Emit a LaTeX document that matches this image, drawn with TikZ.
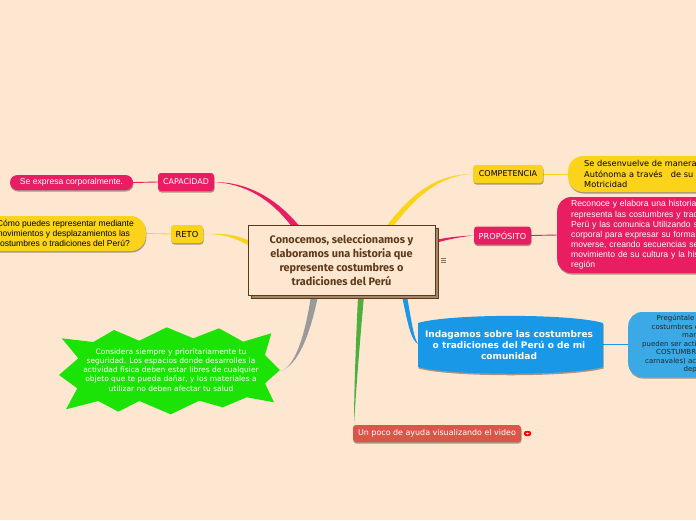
\documentclass[tikz,border=0pt]{standalone}
\usepackage{fontspec}
\setmainfont{Liberation Sans}
\newfontfamily\fira{Fira Sans}
\newfontfamily\dejavu{DejaVu Sans}
\usetikzlibrary{shadows,calc}
\pgfdeclarelayer{back}\pgfsetlayers{back,main}
\definecolor{bgc}{HTML}{FEE7D1}
\definecolor{pinkc}{HTML}{E81D62}
\definecolor{yelc}{HTML}{FBD31B}
\definecolor{bluec}{HTML}{1A98E8}
\definecolor{lblue}{HTML}{3BA9E6}
\definecolor{greenc}{HTML}{1BE305}
\definecolor{lineg}{HTML}{4CAF3E}
\definecolor{grayc}{HTML}{9A9A9A}
\definecolor{brownc}{HTML}{5D3A1A}
\definecolor{redc}{HTML}{D9574A}
\tikzset{
  sh/.style={drop shadow={shadow xshift=0.5pt,shadow yshift=-1.5pt,fill=black,opacity=.35}},
  box/.style={rounded corners=3pt,inner sep=0pt,sh,align=center},
  pinkbox/.style={box,fill=pinkc,text=white},
  yelbox/.style={box,fill=yelc,text=black},
  pline/.style={anchor=base west,inner sep=0pt,text=black!85,font=\dejavu\fontsize{7}{8}\selectfont},
}
\begin{document}
\begin{tikzpicture}[x=1pt,y=-1pt]
\useasboundingbox (0,0) rectangle (696,520);
\clip (0,0) rectangle (696,520);
\begin{pgfonlayer}{back}
\fill[bgc] (0,0) rectangle (696,520);
\end{pgfonlayer}

% title
\fill[fill=brownc!55!bgc] (251,228) rectangle (438,298);
\draw[brownc,line width=.8pt] (251,228) rectangle (438,298);
\node[draw=brownc,line width=.9pt,fill=bgc,minimum width=187pt,minimum height=70pt,inner sep=0pt,align=center,text=brownc,font=\fira\bfseries\fontsize{10.9}{13.8}\selectfont] (title) at (341.5,260)
  {Conocemos, seleccionamos y\\elaboramos una historia que\\represente costumbres o\\tradiciones del Perú};
\foreach \yy in {258,260,262} \draw[brownc!70!bgc,line width=.7pt] (441,\yy) -- (446,\yy);

% left side
\node[pinkbox,minimum width=56pt,minimum height=18pt,font=\dejavu\fontsize{7.9}{9}\selectfont] (capacidad) at (186,182) {CAPACIDAD};
\node[pinkbox,rounded corners=7.5pt,minimum width=123pt,minimum height=15pt,font=\fontsize{8.6}{10}\selectfont] (expresa) at (71.5,182.5) {Se expresa corporalmente.};
\node[yelbox,minimum width=32pt,minimum height=18pt,font=\dejavu\fontsize{8.3}{9}\selectfont] (reto) at (187,234) {RETO};
\node[yelbox,rounded corners=15pt,minimum width=166pt,minimum height=35pt,anchor=east,align=center,font=\fontsize{8.55}{10.1}\selectfont] (como) at (146,233.5)
  {¿Cómo puedes representar mediante\\movimientos y desplazamientos las\\costumbres o tradiciones del Perú?};

% star
\fill[greenc] (61.7,338.3) -- (93.3,342) -- (114,330) -- (139.3,340.7) -- (166.7,327.3) -- (193.3,338.3) -- (219,328.3) -- (243.3,341.7) -- (271.3,333.3) -- (265,355) -- (280,370) -- (265,383.3) -- (274,402.3) -- (246.7,397.3) -- (222.7,407.3) -- (199.3,400.7) -- (170.7,414.3) -- (139.3,401) -- (118.3,411.7) -- (98.3,401) -- (66,409.3) -- (77.3,388.3) -- (59,375) -- (78.3,358.3) -- cycle;
\coordinate (startip) at (280,371);
\node[text=white,align=center,inner sep=0pt,font=\dejavu\fontsize{7.5}{9.1}\selectfont] (consid) at (171,370)
  {Considera siempre y prioritariamente tu\\seguridad. Los espacios donde desarrolles la\\actividad física deben estar libres de cualquier\\objeto que te pueda dañar, y los materiales a\\utilizar no deben afectar tu salud};

% right side
\node[yelbox,minimum width=70pt,minimum height=18pt,font=\dejavu\fontsize{8.05}{9}\selectfont] (comp) at (508,174) {COMPETENCIA};
\node[yelbox,rounded corners=15pt,minimum width=190pt,minimum height=36pt,anchor=west,text width=158pt,align=left,font=\dejavu\fontsize{8.2}{10.3}\selectfont] (desen) at (568,174)
  {Se desenvuelve de manera\\Autónoma a través\ \ \ de su\\Motricidad};
\node[pinkbox,minimum width=57pt,minimum height=18pt,font=\dejavu\fontsize{8.2}{9}\selectfont] (prop) at (502.5,235.5) {PROPÓSITO};
\node[pinkbox,rounded corners=14pt,minimum width=215pt,minimum height=76pt,anchor=west,text width=187pt,align=left,font=\fontsize{8.6}{10.1}\selectfont] (recon) at (557,235)
  {Reconoce y elabora una historia que\\representa las costumbres y tradiciones\\Perú y las comunica Utilizando su cuerpo\\corporal para expresar su forma propia\\moverse, creando secuencias sencillas\\movimiento de su cultura y la historia\\región};

% Indagamos
\fill[bluec,drop shadow={shadow xshift=0.5pt,shadow yshift=-1.5pt,fill=black,opacity=.35}] (418,323) .. controls (450,313.5) and (571,313.5) .. (603,323) -- (603,367) .. controls (571,376) and (450,376) .. (418,367) -- cycle;
\node[text=white,align=center,inner sep=0pt,font=\dejavu\bfseries\fontsize{9.03}{11}\selectfont] (indag) at (509,345)
  {Indagamos sobre las costumbres\\o tradiciones del Perú o de mi\\comunidad};
\coordinate (indagW) at (418,344);
\coordinate (indagE) at (603,344.5);
\node[fill=lblue,rounded corners=14pt,minimum width=100pt,minimum height=65pt,anchor=west,inner sep=0pt,sh] (preg) at (628,344.5) {};
\node[pline] (p1) at (656.5,320.5) {Pregúntale};
\node[pline] (p2) at (651.5,329.5) {costumbres e};
\node[pline] (p3) at (682,337.5) {man};
\node[pline] (p4) at (642,346.5) {pueden ser acti};
\node[pline] (p5) at (656,354.5) {COSTUMBR};
\node[pline] (p6) at (645,363.5) {carnavales) ac};
\node[pline] (p7) at (683.5,371.5) {dep};

% video
\node[box,fill=redc,text=white,minimum width=168pt,minimum height=17pt,font=\dejavu\fontsize{7.95}{9}\selectfont] (video) at (437,433.5) {Un poco de ayuda visualizando el video};
\node[fill=red,rounded corners=2pt,minimum width=7pt,minimum height=5pt,inner sep=0pt] (vmark) at (527.5,433.5) {};
\fill[white] (vmark.center) ellipse (1.6pt and .9pt);

% connectors
\begin{pgfonlayer}{back}
\fill[pinkc] (capacidad.east) .. controls (245,184) and (270,198) .. (293,228) -- (301,228) .. controls (275,196) and (245,182) .. (capacidad.east) -- cycle;
\draw[pinkc,line width=.9pt] (expresa.east) -- (capacidad.west);
\fill[yelc] (reto.east) .. controls (225,234) and (235,238) .. (248,245) -- (248,240) .. controls (235,235) and (225,233) .. (reto.east) -- cycle;
\draw[yelc,line width=.8pt] (como.east) -- (reto.west);
\fill[yelc] (comp.west) .. controls (435,174) and (410,195) .. (385,228) -- (392,228) .. controls (415,197) and (440,175) .. (comp.west) -- cycle;
\draw[yelc,line width=.9pt] (comp.east) -- (desen.west);
\fill[pinkc] (prop.west) .. controls (460,236) and (450,237) .. (435,240) -- (435,243) .. controls (450,239) and (460,237) .. (prop.west) -- cycle;
\draw[pinkc,line width=.9pt] (prop.east) -- (recon.west);
\fill[bluec] (indagW) .. controls (411,340) and (408,325) .. (402,296) -- (407,296) .. controls (412,325) and (414,338) .. (indagW) -- cycle;
\draw[bluec,line width=.9pt] (indagE) -- (preg.west);
\fill[lineg] (354,425) .. controls (354,390) and (356,340) .. (358,296) -- (364,296) .. controls (360,340) and (356,390) .. (354,425) -- cycle;
\fill[grayc] (startip) .. controls (295,368) and (305,335) .. (311,296) -- (318,296) .. controls (310,335) and (298,366) .. (startip) -- cycle;
\end{pgfonlayer}
\end{tikzpicture}
\end{document}
